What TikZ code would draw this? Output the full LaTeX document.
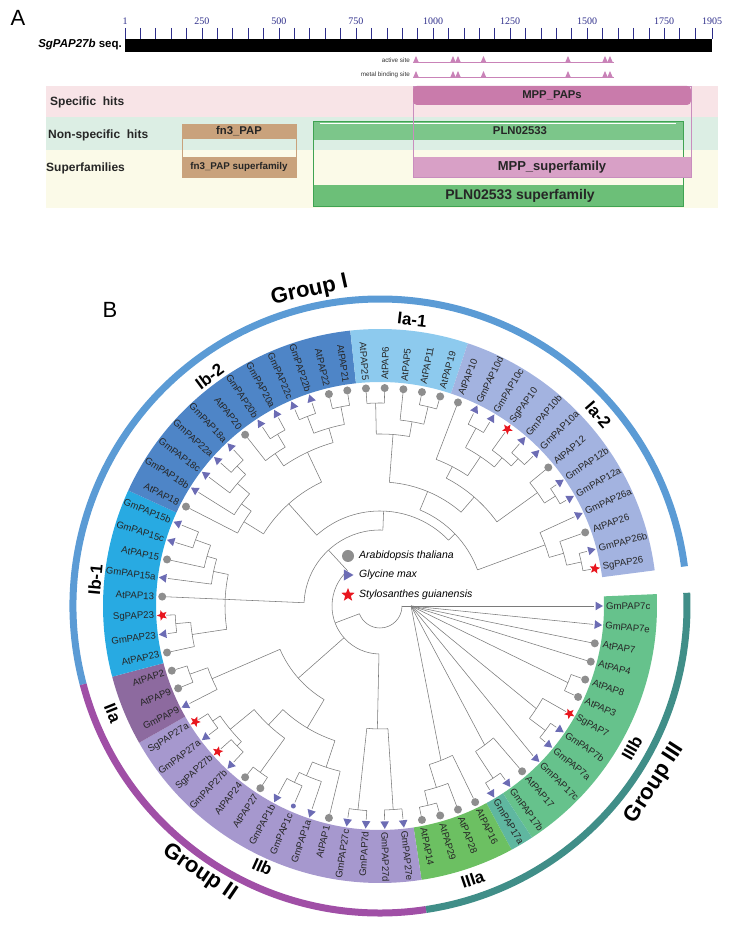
\documentclass[tikz,border=0pt]{standalone}
\usepackage{fontspec}
\setmainfont{Liberation Sans}
\newfontfamily\serifA{Liberation Serif}
\usetikzlibrary{shapes.geometric}
\definecolor{brc}{HTML}{7A7A7A}
\definecolor{dotgray}{HTML}{8E8E8E}
\definecolor{triblue}{HTML}{6C6CB4}
\definecolor{starred}{HTML}{E8161E}
\definecolor{bIa1}{HTML}{8DCAEE}
\definecolor{bIa2}{HTML}{A3B3E0}
\definecolor{bIb2}{HTML}{4E85C7}
\definecolor{bIb1}{HTML}{28AAE2}
\definecolor{bIIa}{HTML}{8D6A9F}
\definecolor{bIIb}{HTML}{A698CE}
\definecolor{bIIIa}{HTML}{6CC062}
\definecolor{bIIIb}{HTML}{66C28C}
\definecolor{bIIIt}{HTML}{5FB7A0}
\definecolor{ringI}{HTML}{5B9BD5}
\definecolor{ringII}{HTML}{A04FA6}
\definecolor{ringIII}{HTML}{408E88}
\definecolor{navy}{HTML}{2E2E8A}
\definecolor{bpink}{HTML}{F8E4E7}
\definecolor{bmint}{HTML}{DCEEE4}
\definecolor{bcream}{HTML}{FBFAE8}
\definecolor{mppc}{HTML}{C97BAB}
\definecolor{mppframe}{HTML}{C98DBE}
\definecolor{mppsup}{HTML}{D8A0C6}
\definecolor{fn3c}{HTML}{C9A27C}
\definecolor{plnc}{HTML}{7CC68A}
\definecolor{plnsup}{HTML}{6CBF78}
\definecolor{plnframe}{HTML}{3FA352}
\definecolor{actc}{HTML}{C983B8}
\def\dd{4.93151}
\def\rt{214}
\def\rmk{218}
\def\rl{226}
\newcommand{\tipl}[2]{\draw[br] ({-(#1)*\dd}:#2) -- ({-(#1)*\dd}:\rt);}
\newcommand{\nod}[5]{\draw[br] ({-(#1)*\dd}:#3) -- ({-(#1)*\dd}:#2);
  \draw[br] ({-(#4)*\dd}:#2) arc[start angle={-(#4)*\dd}, end angle={-(#5)*\dd}, radius=#2];}
\newcommand{\arcn}[3]{\draw[br] ({-(#2)*\dd}:#1) arc[start angle={-(#2)*\dd}, end angle={-(#3)*\dd}, radius=#1];}
\newcommand{\fan}[2]{\draw[br] (P) -- ({-(#1)*\dd}:#2);}
\newcommand{\band}[3]{\fill[#3] ({-(#1)*\dd}:224) arc[start angle={-(#1)*\dd}, end angle={-(#2)*\dd}, radius=224] -- ({-(#2)*\dd}:277) arc[start angle={-(#2)*\dd}, end angle={-(#1)*\dd}, radius=277] -- cycle;}
\newcommand{\ringarc}[3]{\draw[line width=7pt, #3] ({-(#1)*\dd}:307) arc[start angle={-(#1)*\dd}, end angle={-(#2)*\dd}, radius=307];}
\begin{document}
\begin{tikzpicture}[x=1pt,y=1pt,
  br/.style={draw=brc, line width=0.55pt},
  leaf/.style={font=\fontsize{9.6}{10}\selectfont, inner sep=0pt, text=black!85},
  mka/.style={circle, fill=dotgray, minimum size=8pt, inner sep=0pt},
  mkg/.style={regular polygon, regular polygon sides=3, fill=triblue, minimum size=10pt, inner sep=0pt},
  mks/.style={star, star points=5, star point ratio=2.3, fill=starred, minimum size=11pt, inner sep=0pt},
  mkd/.style={circle, fill=triblue, minimum size=5pt, inner sep=0pt},
  grp/.style={font=\bfseries\fontsize{22}{22}\selectfont, inner sep=0pt},
  sub/.style={font=\bfseries\fontsize{17}{17}\selectfont, inner sep=0pt},
  hit/.style={font=\bfseries\fontsize{12}{13}\selectfont, inner sep=0pt, text=black!85},
  box/.style={font=\bfseries\fontsize{11.3}{12}\selectfont, inner sep=0pt, text=black!85},
  rul/.style={font=\serifA\fontsize{10}{10}\selectfont, text=navy, inner sep=0pt},
  tiny/.style={font=\fontsize{6.3}{7}\selectfont, inner sep=0pt, text=black!80}]
\useasboundingbox (0,0) rectangle (729,933);
% ================= Panel A =================
\begin{scope}[shift={(0,933)},yscale=-1]
\node[font=\fontsize{22}{22}\selectfont, inner sep=0pt] (labA) at (18,18) {A};
\fill[bpink] (46,86) rectangle (718,117);
\fill[bmint] (46,117) rectangle (718,150);
\fill[bcream] (46,150) rectangle (718,208);
\fill[black] (125,39) rectangle (712,52);
\foreach \u in {1,50,100,...,1850,1905} \draw[navy, line width=0.5pt] ({125+(\u-1)*0.30830},28) -- ++(0,11);
\foreach \u in {1,250,500,750,1000,1250,1500,1750,1905}
  \node[rul] (r\u) at ({125+(\u-1)*0.30830},21) {\u};
\node[anchor=east, font=\bfseries\fontsize{11.5}{12}\selectfont, inner sep=0pt] (seq) at (122,45) {\itshape SgPAP27b\upshape\ seq.};
% sites
\draw[actc, line width=0.8pt] (413,62) -- (614,62);
\draw[actc, line width=0.8pt] (413,77) -- (614,77);
\foreach \x in {416,453,458,483.5,568,605,610} {
  \fill[actc] (\x-2.6,62) -- (\x,56) -- (\x+2.6,62) -- cycle;
  \fill[actc] (\x-2.6,77) -- (\x,71) -- (\x+2.6,77) -- cycle;}
\node[tiny, anchor=east] (act) at (410,60) {active site};
\node[tiny, anchor=east] (met) at (410,75) {metal binding site};
% row titles
\node[hit, anchor=west] (sh) at (50,102) {Specific\ \ hits};
\node[hit, anchor=west] (nsh) at (48,135) {Non-specific\ \ hits};
\node[hit, anchor=west] (sf) at (46,168) {Superfamilies};
% fn3
\fill[fn3c] (182,124) rectangle (296,139);
\fill[fn3c] (182,157) rectangle (296,177);
\draw[fn3c, line width=0.8pt] (182,124) rectangle (296,177);
\node[box] (fn3) at (239,131) {fn3\_PAP};
\node[font=\bfseries\fontsize{9.8}{10}\selectfont, inner sep=0pt, text=black!85] (fn3s) at (239,167) {fn3\_PAP superfamily};
% PLN
\fill[plnc] (313,121) rectangle (683,140);
\draw[white, line width=0.8pt] (320,123.5) -- (676,123.5);
\fill[plnsup] (313,185) rectangle (683,206);
\draw[plnframe, line width=0.9pt] (313,121) rectangle (683,206);
\node[box] (pln) at (520,131) {PLN02533};
\node[font=\bfseries\fontsize{14}{15}\selectfont, inner sep=0pt, text=black!85] (plns) at (520,195.5) {PLN02533 superfamily};
% MPP
\fill[mppsup] (413,157) rectangle (691,177);
\draw[mppframe, line width=0.8pt] (413,86) rectangle (691,177);
\fill[mppc, rounded corners=4pt] (413,86) rectangle (691,105);
\node[box] (mpp) at (552,95.5) {MPP\_PAPs};
\node[font=\bfseries\fontsize{13}{14}\selectfont, inner sep=0pt, text=black!85] (mpps) at (552,167) {MPP\_superfamily};
\node[font=\fontsize{22}{22}\selectfont, inner sep=0pt] (labB) at (110,310) {B};
\end{scope}
% ================= Panel B =================
\begin{scope}[shift={(380,327)}]
% bands
\band{-0.5}{11.5}{bIIIb}
\band{11.5}{12.5}{bIIIt}
\band{12.5}{16.5}{bIIIa}
\band{16.5}{30.5}{bIIb}
\band{30.5}{33.5}{bIIa}
\band{33.5}{41.5}{bIb1}
\band{41.5}{53.5}{bIb2}
\band{53.5}{58.5}{bIa1}
\band{58.5}{71.5}{bIa2}
% rings
\ringarc{33.5}{71.5}{ringI}
\ringarc{16.5}{33.5}{ringII}
\ringarc{-0.5}{16.5}{ringIII}
% group labels
\node[grp, rotate=12.6] (gI) at (102.6:323) {Group I};
\node[grp, rotate=-34.1] (gII) at (235.9:322) {Group II};
\node[grp, rotate=57.2] (gIII) at (-32.8:327) {Group III};
\node[sub, rotate=-6.4] (sIa1) at (83.6:288) {Ia-1};
\node[sub, rotate=-48.8] (sIa2) at (41.2:290) {Ia-2};
\node[sub, rotate=36.6] (sIb2) at (126.6:286) {Ib-2};
\node[sub, rotate=84.8] (sIb1) at (174.8:286) {Ib-1};
\node[sub, rotate=-68.2] (sIIa) at (201.8:288) {IIa};
\node[sub, rotate=-24.3] (sIIb) at (245.7:286) {IIb};
\node[sub, rotate=18.7] (sIIIa) at (-71.3:289) {IIIa};
\node[sub, rotate=60.6] (sIIIb) at (-29.4:289) {IIIb};
% ---- tree ----
\coordinate (P) at (0:31);
\draw[br] (0:22) -- (P);
\arcn{22}{0}{32.3}
\draw[br] ({-32.3*\dd}:22) -- ({-32.3*\dd}:48);
\arcn{48}{18.5}{46.1}
% Group III fan
\fan{0}{\rt}\fan{1}{\rt}\fan{2}{\rt}\fan{3}{\rt}
\fan{4.5}{203}\arcn{203}{4}{5}\tipl{4}{203}\tipl{5}{203}
\fan{6.75}{187}\arcn{187}{6}{7.5}\tipl{6}{187}\nod{7.5}{207}{187}{7}{8}\tipl{7}{207}\tipl{8}{207}
\fan{9}{\rt}
\fan{10.75}{174}\arcn{174}{10}{11.5}\tipl{10}{174}\nod{11.5}{206}{174}{11}{12}\tipl{11}{206}\tipl{12}{206}
\fan{13.88}{166}\arcn{166}{13}{14.75}\tipl{13}{166}\nod{14.75}{190}{166}{14}{15.5}\tipl{14}{190}\nod{15.5}{205}{190}{15}{16}\tipl{15}{205}\tipl{16}{205}
% IIb 27c-27e
\nod{19.5}{205}{123}{19}{20}\tipl{19}{205}\tipl{20}{205}
\nod{17.5}{204}{123}{17}{18}\tipl{17}{204}\tipl{18}{204}
\nod{18.5}{123}{48}{17.5}{19.5}
% IIb main
\nod{29.5}{203}{194}{29}{30}\tipl{29}{203}\tipl{30}{203}
\nod{27.5}{200}{194}{27}{28}\tipl{27}{200}\tipl{28}{200}
\nod{28.5}{194}{163}{27.5}{29.5}
\nod{25.5}{205}{163}{25}{26}\tipl{25}{205}\tipl{26}{205}
\nod{27}{163}{142}{25.5}{28.5}
\nod{23.5}{196}{185}{23}{24}\tipl{23}{196}\tipl{24}{196}
\nod{23}{185}{170}{22}{23.5}\tipl{22}{185}
\nod{22}{170}{142}{21}{23}\tipl{21}{170}
\nod{24.5}{142}{109}{22}{27}
% IIa
\nod{32.5}{202}{183}{32}{33}\tipl{32}{202}\tipl{33}{202}
\nod{31.75}{183}{109}{31}{32.5}\tipl{31}{183}
\nod{28.1}{109}{48}{24.5}{31.75}
% Ib-1
\nod{40.5}{196}{180}{40}{41}\tipl{40}{196}\tipl{41}{196}
\nod{39.75}{180}{170}{39}{40.5}\tipl{39}{180}
\nod{38.88}{170}{155}{38}{39.75}\tipl{38}{170}
\tipl{37}{155}
\nod{35.5}{205}{190}{35}{36}\tipl{35}{205}\tipl{36}{205}
\nod{34.75}{190}{155}{34}{35.5}\tipl{34}{190}
\nod{37}{155}{76}{34.75}{38.88}
% Ib-2
\nod{52.5}{203}{185}{52}{53}\tipl{52}{203}\tipl{53}{203}
\nod{50.5}{203}{185}{50}{51}\tipl{50}{203}\tipl{51}{203}
\nod{51.5}{185}{170}{50.5}{52.5}
\nod{48.5}{200}{185}{48}{49}\tipl{48}{200}\tipl{49}{200}
\nod{47.75}{185}{170}{47}{48.5}\tipl{47}{185}
\nod{49.63}{170}{137}{47.75}{51.5}
\nod{45.5}{200}{188}{45}{46}\tipl{45}{200}\tipl{46}{200}
\nod{44.75}{188}{172}{44}{45.5}\tipl{44}{188}
\nod{43.88}{172}{160}{43}{44.75}\tipl{43}{172}
\nod{42.94}{160}{137}{42}{43.88}\tipl{42}{160}
\nod{46.28}{137}{95}{42.94}{49.63}
% Ia-1
\nod{54.5}{203}{172}{54}{55}\tipl{54}{203}\tipl{55}{203}
\nod{57.5}{205}{187}{57}{58}\tipl{57}{205}\tipl{58}{205}
\nod{56.75}{187}{172}{56}{57.5}\tipl{56}{187}
\nod{55.63}{172}{124}{54.5}{56.75}
% Ia-2
\nod{60.5}{202}{180}{60}{61}\tipl{60}{202}\tipl{61}{202}
\nod{63.5}{202}{192}{63}{64}\tipl{63}{202}\tipl{64}{202}
\nod{62.75}{192}{180}{62}{63.5}\tipl{62}{192}
\nod{61.63}{180}{157}{60.5}{62.75}
\nod{60.31}{157}{144}{59}{61.63}\tipl{59}{157}
\nod{66.5}{207}{194}{66}{67}\tipl{66}{207}\tipl{67}{207}
\nod{65.75}{194}{144}{65}{66.5}\tipl{65}{194}
\nod{63.03}{144}{124}{60.31}{65.75}
\nod{59.33}{124}{104}{55.63}{63.03}
\nod{70.5}{206}{191}{70}{71}\tipl{70}{206}\tipl{71}{206}
\nod{69.75}{191}{176}{69}{70.5}\tipl{69}{191}
\nod{68.88}{176}{104}{68}{69.75}\tipl{68}{176}
\nod{64.1}{104}{95}{59.33}{68.88}
\nod{55.19}{95}{76}{46.28}{64.1}
\nod{46.1}{76}{48}{37}{55.19}
% ---- leaves ----
\foreach \i/\n/\t in {0/GmPAP7c/2, 1/GmPAP7e/2, 2/AtPAP7/1, 3/AtPAP4/1, 4/AtPAP8/1, 5/AtPAP3/1, 6/SgPAP7/3, 7/GmPAP7b/2, 8/GmPAP7a/2, 9/GmPAP17c/2, 10/AtPAP17/1, 11/GmPAP17b/2, 12/GmPAP17a/2, 13/AtPAP16/1, 14/AtPAP28/1, 15/AtPAP29/1, 16/AtPAP14/1, 17/GmPAP27e/2, 18/GmPAP27d/2, 19/GmPAP7d/2, 20/GmPAP27c/2, 21/AtPAP1/1, 22/GmPAP1a/2, 23/GmPAP1c/4, 24/GmPAP1b/2, 25/AtPAP27/1, 26/AtPAP24/1, 27/GmPAP27b/2, 28/SgPAP27b/3, 29/GmPAP27a/2, 30/SgPAP27a/3, 31/GmPAP9/2, 32/AtPAP9/1, 33/AtPAP2/1, 34/AtPAP23/1, 35/GmPAP23/2, 36/SgPAP23/3, 37/AtPAP13/1, 38/GmPAP15a/2, 39/AtPAP15/1, 40/GmPAP15c/2, 41/GmPAP15b/2, 42/AtPAP18/1, 43/GmPAP18b/2, 44/GmPAP18c/2, 45/GmPAP22a/2, 46/GmPAP18a/2, 47/AtPAP20/1, 48/GmPAP20b/2, 49/GmPAP20a/2, 50/GmPAP22c/2, 51/GmPAP22b/2, 52/AtPAP22/1, 53/AtPAP21/1, 54/AtPAP25/1, 55/AtPAP6/1, 56/AtPAP5/1, 57/AtPAP11/1, 58/AtPAP19/1, 59/AtPAP10/1, 60/GmPAP10d/2, 61/GmPAP10c/2, 62/SgPAP10/3, 63/GmPAP10b/2, 64/GmPAP10a/2, 65/AtPAP12/1, 66/GmPAP12b/2, 67/GmPAP12a/2, 68/GmPAP26a/2, 69/AtPAP26/1, 70/GmPAP26b/2, 71/SgPAP26/3} {
  \pgfmathsetmacro{\ang}{-\i*\dd}
  \pgfmathtruncatemacro{\rgt}{cos(\ang)>0 ? 1 : 0}
  \ifnum\rgt=1
    \node[leaf, anchor=west, rotate=\ang] (L\i) at (\ang:\rl) {\n};
  \else
    \node[leaf, anchor=east, rotate=\ang+180] (L\i) at (\ang:\rl) {\n};
  \fi
  \ifcase\t
  \or \node[mka] (M\i) at (\ang:\rmk) {};
  \or \node[mkg, rotate=\ang-90] (M\i) at (\ang:\rmk) {};
  \or \node[mks, rotate=\ang-90] (M\i) at (\ang:\rmk) {};
  \or \node[mkd] (M\i) at (\ang:\rmk) {};
  \fi
}
\end{scope}
% legend
\node[mka, minimum size=12pt] (lg1) at (348,377) {};
\node[mkg, minimum size=13pt, rotate=-90] (lg2) at (347,358) {};
\node[mks, minimum size=14pt] (lg3) at (348,338) {};
\node[anchor=west, font=\itshape\fontsize{10.5}{11}\selectfont, inner sep=0pt] (lt1) at (359,377) {Arabidopsis thaliana};
\node[anchor=west, font=\itshape\fontsize{10.5}{11}\selectfont, inner sep=0pt] (lt2) at (359,358) {Glycine max};
\node[anchor=west, font=\itshape\fontsize{10.5}{11}\selectfont, inner sep=0pt] (lt3) at (359,338) {Stylosanthes guianensis};
\end{tikzpicture}
\end{document}
